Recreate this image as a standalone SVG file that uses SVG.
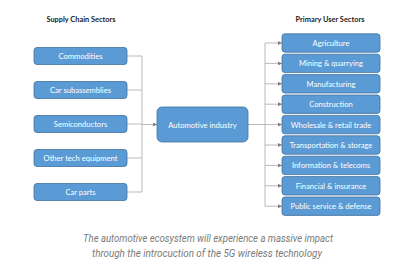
<svg xmlns="http://www.w3.org/2000/svg" width="400" height="270" viewBox="0 0 400 270">
<style>
.box{fill:#5b9bd5;stroke:#41719c;stroke-width:0.8}
.lbl{font-family:Lato,"Open Sans",sans-serif;font-size:7.6px;fill:#ffffff;text-anchor:middle;dominant-baseline:central}
.ttl{font-family:Lato,"Open Sans",sans-serif;font-size:7.4px;font-weight:bold;fill:#222;text-anchor:middle}
.ln{stroke:#a9a9a9;stroke-width:0.8;fill:none}
.cap{font-family:Roboto,"Liberation Sans",sans-serif;font-style:italic;font-size:10.5px;fill:#7a7a7a;text-anchor:middle}
</style>
<defs>
<marker id="ah" viewBox="0 0 6 6" refX="6" refY="3" markerWidth="4" markerHeight="4" orient="auto" markerUnits="userSpaceOnUse">
<path d="M0,0 L6,3 L0,6 z" fill="#7f7f7f"/>
</marker>
</defs>
<rect width="400" height="270" fill="#ffffff"/>
<text class="ttl" x="81" y="22">Supply Chain Sectors</text>
<text class="ttl" x="330" y="22">Primary User Sectors</text>
<g id="connectors">
<path class="ln" d="M127,56 H142 M127,90 H142 M127,124 H142 M127,158 H142 M127,192 H142 M142,56 V192"/>
<path class="ln" d="M142,124.5 H157" marker-end="url(#ah)"/>
<path class="ln" d="M248,124.5 H265 M265,43 V206.2"/>
<path class="ln" d="M265,43 H282" marker-end="url(#ah)"/>
<path class="ln" d="M265,63.4 H282" marker-end="url(#ah)"/>
<path class="ln" d="M265,83.8 H282" marker-end="url(#ah)"/>
<path class="ln" d="M265,104.2 H282" marker-end="url(#ah)"/>
<path class="ln" d="M265,124.6 H282" marker-end="url(#ah)"/>
<path class="ln" d="M265,145 H282" marker-end="url(#ah)"/>
<path class="ln" d="M265,165.4 H282" marker-end="url(#ah)"/>
<path class="ln" d="M265,185.8 H282" marker-end="url(#ah)"/>
<path class="ln" d="M265,206.2 H282" marker-end="url(#ah)"/>
</g>
<g id="commodities"><rect class="box" x="34" y="47.5" width="93" height="17" rx="3"/><text class="lbl" x="80.5" y="56">Commodities</text></g>
<g id="car-subassemblies"><rect class="box" x="34" y="81.5" width="93" height="17" rx="3"/><text class="lbl" x="80.5" y="90">Car subassemblies</text></g>
<g id="semiconductors"><rect class="box" x="34" y="115.5" width="93" height="17" rx="3"/><text class="lbl" x="80.5" y="124">Semiconductors</text></g>
<g id="other-tech"><rect class="box" x="34" y="149.5" width="93" height="17" rx="3"/><text class="lbl" x="80.5" y="158">Other tech equipment</text></g>
<g id="car-parts"><rect class="box" x="34" y="183.5" width="93" height="17" rx="3"/><text class="lbl" x="80.5" y="192">Car parts</text></g>
<g id="automotive"><rect class="box" x="157" y="107" width="91" height="35" rx="5"/><text class="lbl" x="202.5" y="124.5">Automotive industry</text></g>
<g id="agriculture"><rect class="box" x="282" y="33.8" width="98" height="18.4" rx="3"/><text class="lbl" x="331" y="43">Agriculture</text></g>
<g id="mining"><rect class="box" x="282" y="54.2" width="98" height="18.4" rx="3"/><text class="lbl" x="331" y="63.4">Mining &amp; quarrying</text></g>
<g id="manufacturing"><rect class="box" x="282" y="74.6" width="98" height="18.4" rx="3"/><text class="lbl" x="331" y="83.8">Manufacturing</text></g>
<g id="construction"><rect class="box" x="282" y="95" width="98" height="18.4" rx="3"/><text class="lbl" x="331" y="104.2">Construction</text></g>
<g id="wholesale"><rect class="box" x="282" y="115.4" width="98" height="18.4" rx="3"/><text class="lbl" x="331" y="124.6">Wholesale &amp; retail trade</text></g>
<g id="transportation"><rect class="box" x="282" y="135.8" width="98" height="18.4" rx="3"/><text class="lbl" x="331" y="145">Transportation &amp; storage</text></g>
<g id="information"><rect class="box" x="282" y="156.2" width="98" height="18.4" rx="3"/><text class="lbl" x="331" y="165.4">Information &amp; telecoms</text></g>
<g id="financial"><rect class="box" x="282" y="176.6" width="98" height="18.4" rx="3"/><text class="lbl" x="331" y="185.8">Financial &amp; insurance</text></g>
<g id="public"><rect class="box" x="282" y="197" width="98" height="18.4" rx="3"/><text class="lbl" x="331" y="206.2">Public service &amp; defense</text></g>
<text class="cap" x="208" y="241.5" textLength="250" lengthAdjust="spacingAndGlyphs">The automotive ecosystem will experience a massive impact</text>
<text class="cap" x="207" y="256.5" textLength="230" lengthAdjust="spacingAndGlyphs">through the introcuction of the 5G wireless technology</text>
</svg>
